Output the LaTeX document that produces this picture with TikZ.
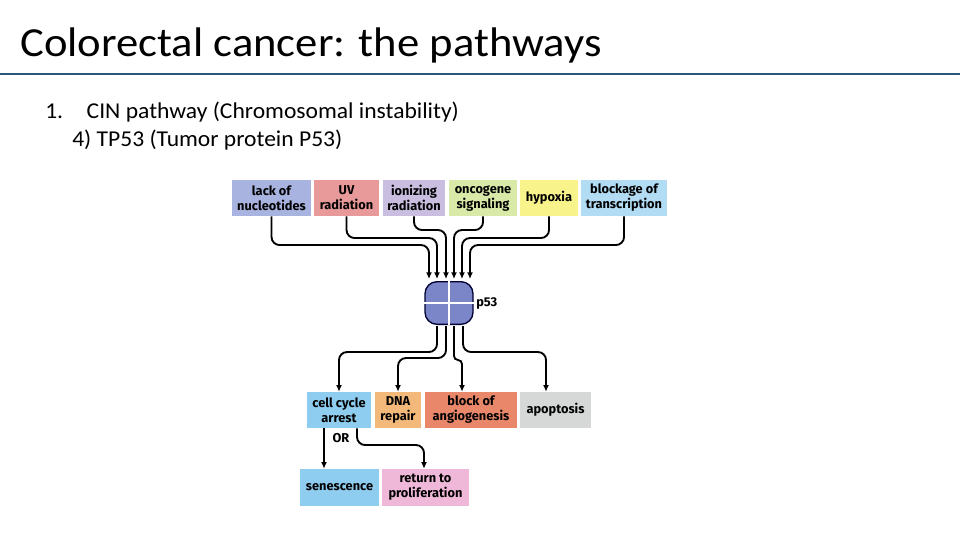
\documentclass[tikz,border=0pt]{standalone}
\usepackage{fontspec}
\setmainfont{Carlito}
\newfontfamily\boxf{Fira Sans}
\usetikzlibrary{arrows.meta}
\definecolor{cA}{HTML}{A9B3E0}\definecolor{cB}{HTML}{E89A9A}\definecolor{cC}{HTML}{C9BDE0}
\definecolor{cD}{HTML}{D9E9A8}\definecolor{cE}{HTML}{F8F38A}\definecolor{cF}{HTML}{B2DCF4}
\definecolor{cG}{HTML}{8FCDF0}\definecolor{cH}{HTML}{F3B97A}\definecolor{cI}{HTML}{E8876A}
\definecolor{cJ}{HTML}{D6D8D8}\definecolor{cK}{HTML}{F0B8D8}\definecolor{cP}{HTML}{7B86C8}
\definecolor{tl}{HTML}{2E5574}
\begin{document}
\begin{tikzpicture}[x=0.75pt,y=-0.75pt,
 bx/.style={inner sep=0pt,align=center,font=\boxf\fontseries{sb}\fontsize{9.6}{11.2}\selectfont},
 ar/.style={line width=1.4pt,rounded corners=6pt,-{Latex[length=5pt,width=4.5pt]}}]
\useasboundingbox (0,0) rectangle (960,540);
\fill[white] (0,0) rectangle (960,540);
\node[anchor=base west,font=\fontsize{31}{33}\selectfont,inner sep=0pt,xscale=1.08] (title) at (20,56) {Colorectal cancer: the pathways};
\draw[tl,line width=2.2pt] (0,74) -- (960,74);
\node[anchor=base west,font=\fontsize{17}{19}\selectfont,inner sep=0pt,xscale=1.04] (l1) at (45,118) {1.\hspace{1.0em}CIN pathway (Chromosomal instability)};
\node[anchor=base west,font=\fontsize{17}{19}\selectfont,inner sep=0pt,xscale=1.04] (l2) at (72,146) {4) TP53 (Tumor protein P53)};
\newcommand{\bxx}[7]{\node[bx,fill=#6,minimum width={(#3-#2)*0.75pt},minimum height={(#5-#4)*0.75pt}] (#1) at ({(#2+#3)/2},{(#4+#5)/2}) {#7};}
\bxx{a}{232}{311}{180}{216}{cA}{lack of\\nucleotides}
\bxx{b}{314}{379}{180}{216}{cB}{UV\\radiation}
\bxx{c}{383}{445}{180}{216}{cC}{ionizing\\radiation}
\bxx{d}{449}{517}{180}{216}{cD}{oncogene\\signaling}
\bxx{e}{520}{578}{180}{216}{cE}{hypoxia}
\bxx{f}{581}{667}{180}{216}{cF}{blockage of\\transcription}
\bxx{g}{307}{371}{392}{428}{cG}{cell cycle\\arrest}
\bxx{h}{375}{421}{392}{428}{cH}{DNA\\repair}
\bxx{i}{425}{517}{392}{428}{cI}{block of\\angiogenesis}
\bxx{j}{520}{591}{392}{428}{cJ}{apoptosis}
\bxx{k}{300}{379}{469}{506}{cG}{senescence}
\bxx{l}{382}{469}{469}{506}{cK}{return to\\proliferation}
\node[draw=black!80!blue,line width=1pt,fill=cP,rounded corners=9pt,minimum width=36pt,minimum height=32pt,inner sep=0pt] (p) at (449,303) {};
\draw[white,line width=1.2pt] (p.north) -- (p.south) (p.west) -- (p.east);
\node[bx,anchor=west] (pl) at (476,303) {p53};
\draw[ar] (a.south) |- (429,245) -- (429,279);
\draw[ar] (b.south) |- (437,238) -- (437,279);
\draw[ar] (c.south) |- (446,230) -- (446,279);
\draw[ar] (d.south) |- (454,230) -- (454,279);
\draw[ar] (e.south) |- (462,238) -- (462,279);
\draw[ar] (f.south) |- (470,245) -- (470,279);
\draw[ar] (437,326) |- (339,352) -- (g.north -| 339,0);
\draw[ar] (446,326) |- (398,358) -- (h.north -| 398,0);
\draw[ar,rounded corners=3pt] (454,326) |- (462,360) -- (i.north -| 462,0);
\draw[ar] (463,326) |- (546,352) -- (j.north -| 546,0);
\draw[ar] (g.south -| 324,0) -- (k.north -| 324,0);
\draw[ar] (g.south -| 357,0) |- (424,445) -- (l.north -| 424,0);
\node[bx] (or) at (341,438) {OR};
\end{tikzpicture}
\end{document}
